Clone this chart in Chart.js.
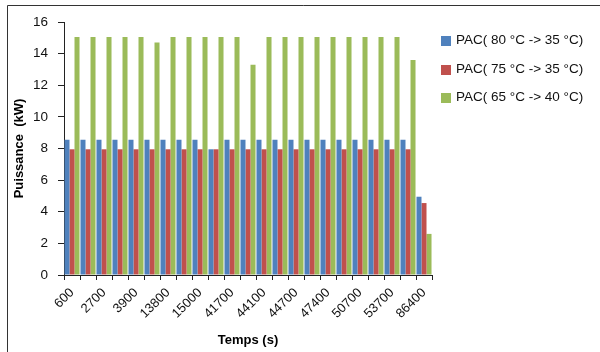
<!DOCTYPE html>
<html lang="fr">
<head>
  <meta charset="UTF-8">
  <title>Puissance PAC</title>
  <script src="https://cdn.jsdelivr.net/npm/chart.js"></script>
  <style>
    html, body { margin: 0; padding: 0; background: #fff; }
    #wrap { position: relative; width: 600px; height: 352px; }
    #legende { position: absolute; left: 441px; top: 32px; font: 13.5px "Liberation Sans", Arial, sans-serif; color: #111; }
    .leg-item { height: 28.5px; display: flex; align-items: flex-start; white-space: pre; }
    .leg-cor { width: 10px; height: 10px; margin: 4px 5px 0 0; }
  </style>
</head>
<body>
  <div id="wrap">
    <canvas id="grafico" width="600" height="352"></canvas>
    <div id="legende"></div>
  </div>
  <script>
    // temps (s) : seule une etiquette sur deux est lisible sur la figure
    const categories = ['600', '', '2700', '', '3900', '', '13800', '', '15000', '', '41700', '',
      '44100', '', '44700', '', '47400', '', '50700', '', '53700', '', '86400'];

    const pac80 = [8.55, 8.55, 8.55, 8.55, 8.55, 8.55, 8.55, 8.55, 8.55, 7.95, 8.55, 8.55,
      8.55, 8.55, 8.55, 8.55, 8.55, 8.55, 8.55, 8.55, 8.55, 8.55, 4.95];
    const pac75 = [7.95, 7.95, 7.95, 7.95, 7.95, 7.95, 7.95, 7.95, 7.95, 7.95, 7.95, 7.95,
      7.95, 7.95, 7.95, 7.95, 7.95, 7.95, 7.95, 7.95, 7.95, 7.95, 4.55];
    const pac65 = [15.05, 15.05, 15.05, 15.05, 15.05, 14.7, 15.05, 15.05, 15.05, 15.05, 15.05, 13.3,
      15.05, 15.05, 15.05, 15.05, 15.05, 15.05, 15.05, 15.05, 15.05, 13.6, 2.6];

    const series = [
      { label: 'PAC( 80 °C -> 35 °C)', cor: '#4F81BD', data: pac80 },
      { label: 'PAC( 75 °C -> 35 °C)', cor: '#C0504D', data: pac75 },
      { label: 'PAC( 65 °C -> 40 °C)', cor: '#9BBB59', data: pac65 }
    ];

    const fonte = "'Liberation Sans', Arial, sans-serif";

    // cadre de la zone graphique (coupe a droite et en bas)
    const cadre = {
      id: 'cadre',
      afterDraw(chart) {
        const c = chart.ctx;
        c.save();
        c.strokeStyle = '#333';
        c.lineWidth = 1;
        c.beginPath();
        c.moveTo(7.5, 352);
        c.lineTo(7.5, 5.5);
        c.lineTo(600, 5.5);
        c.stroke();
        c.restore();
      }
    };

    new Chart(document.getElementById('grafico'), {
      type: 'bar',
      data: {
        labels: categories,
        datasets: series.map(s => ({
          label: s.label,
          data: s.data,
          backgroundColor: s.cor,
          borderWidth: 0,
          categoryPercentage: 0.94,
          barPercentage: 1
        }))
      },
      options: {
        responsive: false,
        animation: false,
        layout: { padding: { left: 7, top: 22, right: 168, bottom: 0 } },
        plugins: { legend: { display: false }, tooltip: { enabled: false } },
        scales: {
          x: {
            afterFit: s => { s.height = 77; },
            grid: { drawOnChartArea: false, drawTicks: true, tickLength: 5, color: '#222' },
            border: { color: '#222', width: 1 },
            ticks: {
              autoSkip: false, maxRotation: 45, minRotation: 45, padding: 5,
              color: '#111', font: { family: fonte, size: 13 }
            },
            title: {
              display: true, text: 'Temps (s)', color: '#000',
              font: { family: fonte, size: 13, weight: 'bold' },
              padding: { top: 0, bottom: 4 }
            }
          },
          y: {
            min: 0, max: 16,
            afterFit: s => { s.width = 57; },
            grid: { drawOnChartArea: false, drawTicks: true, tickLength: 6, color: '#222' },
            border: { color: '#222', width: 1 },
            ticks: { stepSize: 2, padding: 10, color: '#111', font: { family: fonte, size: 13.5 } },
            title: {
              display: true, text: 'Puissance  (kW)', color: '#000',
              font: { family: fonte, size: 13, weight: 'bold' },
              padding: { top: 5, bottom: 0 }
            }
          }
        }
      },
      plugins: [cadre]
    });

    document.getElementById('legende').innerHTML = series.map(s =>
      `<div class="leg-item"><span class="leg-cor" style="background:${s.cor}"></span>${s.label}</div>`
    ).join('');
  </script>
</body>
</html>
